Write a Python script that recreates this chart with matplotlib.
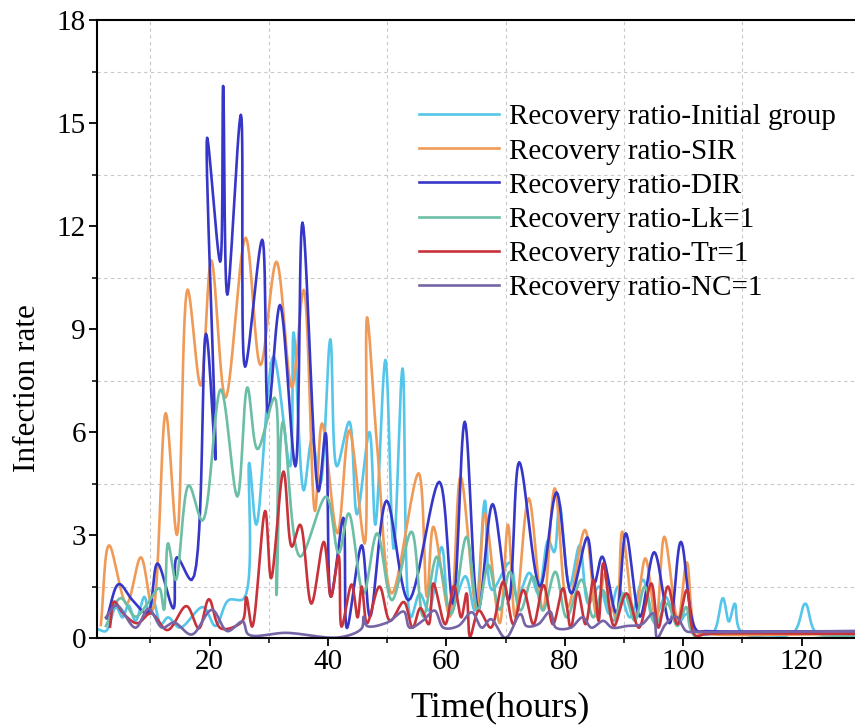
import numpy as np
import matplotlib
matplotlib.use("Agg")
import matplotlib.pyplot as plt
from matplotlib.ticker import MultipleLocator

plt.rcParams['font.family'] = ['Liberation Serif', 'DejaVu Serif']

# ---------------- data ----------------
labels = ["Recovery ratio-Initial group", "Recovery ratio-SIR", "Recovery ratio-DIR",
          "Recovery ratio-Lk=1", "Recovery ratio-Tr=1", "Recovery ratio-NC=1"]
colors = ["#55c6ea", "#f09a58", "#3636c8", "#6cbea6", "#c8323a", "#7664a6"]

init_x = [1.2, 2.5, 4.2, 5.3, 6.3, 7.5, 9.0, 9.8, 10.5, 11.8, 13.0, 15.0, 18.9, 21.0, 23.2, 25.8,
          26.7, 27.9, 30.8, 33.6, 34.2, 35.9, 37.3, 38.7, 40.4, 41.5, 43.6, 44.9, 47.0, 48.0,
          49.7, 51.1, 52.6, 54.0, 55.5, 57.0, 59.2, 60.6, 63.2, 64.8, 66.5, 67.7, 70.7, 72.0,
          74.0, 75.5, 77.2, 78.2, 79.1, 80.8, 82.5, 84.0, 85.8, 87.5, 89.0, 91.0, 93.2, 95.0,
          97.0, 99.0, 100.6, 102.5, 105.0, 106.7, 107.7, 108.7, 109.8, 118.5, 120.6, 122.5, 129.0]
init_y = [0.25, 0.2, 0.9, 0.6, 0.95, 0.5, 1.2, 0.7, 1.1, 0.4, 0.6, 0.3, 0.9, 0.35, 1.1, 1.15,
          5.1, 3.3, 8.2, 5.0, 8.9, 4.3, 5.8, 4.5, 8.7, 5.0, 6.3, 3.6, 6.0, 3.3,
          8.1, 2.6, 7.85, 0.6, 1.3, 0.8, 2.65, 0.7, 1.8, 0.8, 4.0, 1.4, 2.2, 1.2,
          1.9, 1.3, 2.85, 2.5, 3.9, 1.5, 2.7, 1.0, 1.5, 0.7, 1.5, 0.6, 1.7, 0.5,
          1.2, 0.4, 0.7, 0.15, 0.15, 1.16, 0.48, 1.0, 0.18, 0.15, 1.0, 0.15, 0.15]

sir_x = [1.65, 3.05, 6.0, 8.4, 10.4, 12.6, 14.5, 16.3, 18.5, 20.3, 22.7, 26.1, 28.6, 31.3, 33.9,
         35.9, 37.8, 39.0, 41.6, 43.6, 46.2, 46.6, 48.3, 50.8, 55.3, 56.7, 57.8, 60.6, 62.4,
         65.1, 66.5, 69.0, 70.4, 71.6, 73.9, 76.3, 78.3, 80.5, 83.4, 85.4, 86.8, 88.7, 89.7,
         91.8, 93.6, 95.4, 96.8, 99.1, 100.6, 102.2, 104.0, 129.0]
sir_y = [0.38, 2.7, 1.0, 2.35, 0.82, 6.55, 3.0, 10.15, 7.35, 11.0, 7.0, 11.66, 7.95, 10.96, 7.3,
         10.14, 3.7, 6.25, 3.05, 6.05, 2.75, 9.34, 5.6, 1.3, 4.8, 1.2, 3.24, 0.62, 4.7,
         0.82, 3.63, 0.43, 3.3, 0.62, 4.07, 0.82, 4.36, 0.9, 3.15, 0.62, 1.88, 0.52, 3.1,
         0.62, 2.32, 0.52, 2.95, 0.52, 2.2, 0.2, 0.12, 0.12]

dir_x = [2.65, 4.7, 7.0, 9.5, 11.2, 13.9, 14.5, 17.0, 19.4, 21.0, 19.6, 21.8, 22.3, 23.0, 25.3,
         26.0, 28.9, 29.9, 31.9, 34.5, 35.7, 38.4, 39.6, 40.5, 42.6, 43.2, 45.7, 47.1, 49.9,
         53.6, 58.8, 61.1, 63.1, 65.4, 67.8, 70.5, 72.3, 75.8, 78.6, 81.1, 83.8, 85.0, 86.3,
         88.7, 90.3, 92.7, 95.1, 97.7, 99.6, 102.2, 104.0, 129.0]
dir_y = [0.57, 1.57, 1.1, 0.72, 2.17, 0.86, 2.35, 1.69, 8.86, 5.2, 14.57, 10.96, 16.08, 10.0, 15.24,
         7.9, 11.6, 6.55, 9.7, 5.0, 12.1, 4.27, 5.97, 1.2, 3.5, 0.29, 2.7, 0.62, 4.0,
         1.1, 4.55, 1.0, 6.3, 0.82, 3.9, 1.1, 5.12, 1.5, 4.24, 1.3, 2.93, 1.6, 2.37,
         0.72, 3.05, 0.62, 2.5, 0.43, 2.8, 0.23, 0.2, 0.2]

lk_x = [2.5, 5.0, 7.5, 9.5, 11.5, 12.3, 13.0, 14.3, 16.5, 18.8, 21.9, 24.7, 26.4, 28.1, 31.0,
        31.3, 32.4, 35.3, 39.7, 41.8, 43.5, 46.0, 48.3, 50.8, 54.1, 56.1, 58.4, 60.8, 63.4,
        65.3, 67.1, 69.0, 70.7, 72.5, 74.6, 76.3, 78.4, 80.3, 82.8, 84.8, 86.4, 88.2, 90.0,
        91.8, 93.5, 95.3, 97.3, 99.0, 100.5, 102.0, 129.0]
lk_y = [0.35, 1.16, 0.62, 1.0, 1.45, 0.82, 2.76, 1.69, 4.45, 3.42, 7.24, 4.12, 7.3, 5.5, 7.0,
        1.25, 6.3, 2.37, 4.12, 2.47, 3.63, 1.3, 3.05, 1.1, 3.1, 0.62, 2.37, 0.7, 2.95,
        0.8, 2.13, 0.82, 1.93, 0.8, 1.79, 0.8, 1.93, 0.6, 1.7, 0.6, 1.4, 0.5, 1.3,
        0.5, 1.5, 0.4, 1.0, 0.35, 0.9, 0.05, 0.05]

tr_x = [3.2, 3.9, 5.5, 7.8, 10.1, 12.9, 16.1, 18.2, 19.9, 21.9, 25.5, 26.2, 27.2, 29.4, 30.4,
        32.5, 33.9, 35.3, 37.2, 39.3, 40.5, 41.8, 42.3, 44.0, 45.0, 45.7, 46.6, 48.7, 50.5,
        52.8, 54.3, 55.6, 57.0, 57.8, 59.8, 61.3, 62.5, 63.4, 64.0, 65.5, 67.5, 69.6, 71.3,
        73.0, 74.7, 76.4, 78.0, 79.7, 81.0, 82.2, 83.5, 84.8, 85.7, 86.5, 88.3, 90.4, 92.5,
        94.6, 95.8, 97.4, 99.0, 100.6, 102.0, 104.0, 129.0]
tr_y = [0.33, 1.06, 0.7, 0.43, 0.72, 0.23, 0.93, 0.28, 1.13, 0.28, 0.48, 1.19, 0.33, 3.7, 1.74,
        4.85, 2.66, 3.3, 1.0, 2.8, 1.2, 2.4, 0.33, 1.56, 0.6, 1.5, 0.43, 1.5, 0.5,
        1.05, 0.3, 0.87, 0.4, 1.59, 0.4, 1.52, 0.6, 1.3, 0.04, 0.8, 0.3, 1.64, 0.4,
        1.4, 0.4, 1.54, 0.4, 1.45, 0.3, 1.35, 0.4, 1.69, 0.5, 2.18, 0.35, 1.3, 0.3,
        1.59, 0.3, 1.5, 0.4, 1.4, 0.08, 0.12, 0.12]

nc_x = [2.5, 4.3, 7.5, 9.7, 12.0, 14.0, 17.0, 20.4, 23.0, 25.6, 26.6, 33.0, 42.0, 45.7, 46.0,
        46.6, 50.0, 52.8, 53.8, 56.0, 58.0, 59.5, 62.0, 64.3, 66.0, 67.5, 70.0, 72.5, 73.5,
        75.5, 77.5, 78.5, 81.0, 83.0, 84.5, 86.5, 88.0, 90.5, 93.0, 94.9, 95.6, 97.0, 98.8,
        100.5, 102.0, 129.0]
nc_y = [0.6, 0.95, 0.3, 0.85, 0.3, 0.45, 0.1, 0.82, 0.2, 0.48, 0.1, 0.15, 0.02, 0.28, 0.62,
        0.35, 0.45, 0.77, 0.3, 0.5, 0.8, 0.3, 0.35, 0.75, 0.3, 0.55, 0.0, 0.7, 0.35,
        0.4, 0.77, 0.3, 0.3, 0.6, 0.3, 0.5, 0.3, 0.35, 0.4, 0.72, 0.0, 0.4, 0.62,
        0.2, 0.18, 0.2]

series = [(init_x, init_y), (sir_x, sir_y), (dir_x, dir_y),
          (lk_x, lk_y), (tr_x, tr_y), (nc_x, nc_y)]

x_ticks = [20, 40, 60, 80, 100, 120]
y_ticks = [0, 3, 6, 9, 12, 15, 18]


def spline(xs, ys, n=14, sx=5.92, sy=34.3, alpha=0.5):
    """Centripetal Catmull-Rom curve through the read points (spline line style)."""
    P = np.column_stack([np.asarray(xs, float) * sx, np.asarray(ys, float) * sy])
    P = np.vstack([2 * P[0] - P[1], P, 2 * P[-1] - P[-2]])
    out = []
    for i in range(1, len(P) - 2):
        p0, p1, p2, p3 = P[i - 1], P[i], P[i + 1], P[i + 2]
        t0 = 0.0
        t1 = t0 + max(np.linalg.norm(p1 - p0), 1e-6) ** alpha
        t2 = t1 + max(np.linalg.norm(p2 - p1), 1e-6) ** alpha
        t3 = t2 + max(np.linalg.norm(p3 - p2), 1e-6) ** alpha
        t = np.linspace(t1, t2, n, endpoint=False)[:, None]
        A1 = (t1 - t) / (t1 - t0) * p0 + (t - t0) / (t1 - t0) * p1
        A2 = (t2 - t) / (t2 - t1) * p1 + (t - t1) / (t2 - t1) * p2
        A3 = (t3 - t) / (t3 - t2) * p2 + (t - t2) / (t3 - t2) * p3
        B1 = (t2 - t) / (t2 - t0) * A1 + (t - t0) / (t2 - t0) * A2
        B2 = (t3 - t) / (t3 - t1) * A2 + (t - t1) / (t3 - t1) * A3
        C = (t2 - t) / (t2 - t1) * B1 + (t - t1) / (t2 - t1) * B2
        out.append(C)
    out.append(P[-2][None, :])
    C = np.vstack(out)
    return C[:, 0] / sx, C[:, 1] / sy


fig = plt.figure(figsize=(8.55, 7.27), dpi=100)
ax = fig.add_axes([97 / 855, 1 - 638 / 727, 758 / 855, 618 / 727])

for (xs, ys), lab, col in zip(series, labels, colors):
    cx, cy = spline(xs, ys)
    ax.plot(cx, cy, color=col, lw=1.9, label=lab, solid_joinstyle='round')

ax.set_xlim(1.0, 129.0)
ax.set_ylim(0, 18)
ax.set_xticks(x_ticks)
ax.set_yticks(y_ticks)
ax.xaxis.set_minor_locator(MultipleLocator(10))
ax.yaxis.set_minor_locator(MultipleLocator(1.5))
ax.grid(True, which='minor', color='#c8c8c8', ls=(0, (3, 3)), lw=0.8)
ax.grid(False, which='major')

for s in ['left', 'bottom', 'top']:
    ax.spines[s].set_linewidth(1.5)
ax.spines['right'].set_visible(False)
ax.tick_params(which='major', direction='out', length=6, width=1.3, labelsize=21, pad=2)
ax.tick_params(which='minor', direction='out', length=3.5, width=1.1)

ax.set_xlabel("Time(hours)", fontsize=26)
ax.set_ylabel("Infection rate", fontsize=22.5)
ax.xaxis.set_label_coords((500 - 97) / 758, -(708 - 638) / 618)
ax.xaxis.label.set_va('center')
ax.yaxis.set_label_coords(-(97 - 28) / 758, (638 - 388) / 618)
ax.yaxis.label.set_va('center')

leg = ax.legend(loc='upper left', bbox_to_anchor=(419 / 855, 1 - 104 / 727),
                bbox_transform=fig.transFigure, frameon=False, fontsize=21,
                handlelength=2.75, handletextpad=0.35, labelspacing=0.265,
                borderpad=0, borderaxespad=0)

fig.savefig("out.png", dpi=100)
